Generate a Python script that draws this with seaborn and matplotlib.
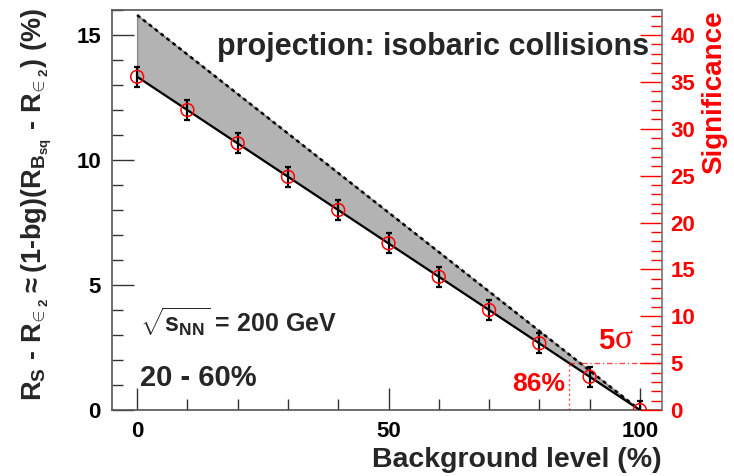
import matplotlib
matplotlib.use("Agg")
import matplotlib.pyplot as plt
import seaborn as sns
import numpy as np
import pandas as pd
from matplotlib.ticker import MultipleLocator

# ---- data ----
bg_level = [0, 10, 20, 30, 40, 50, 60, 70, 80, 90, 100]
diff_vals = [13.33, 12.0, 10.67, 9.33, 8.0, 6.67, 5.33, 4.0, 2.67, 1.33, 0.0]
diff_errs = [0.4, 0.4, 0.4, 0.4, 0.4, 0.4, 0.4, 0.4, 0.4, 0.4, 0.35]
line_x = [0, 100]
lower_line = [13.33, 0.0]
upper_line = [15.8, 0.0]
sig_threshold = 5
bg_at_threshold = 86
left_ylim = [0, 16.0]
right_ylim = [0, 42.67]
xlim = [-5, 104.4]

sns.set_theme(style="ticks")
plt.rcParams['font.family'] = ['Liberation Sans', 'DejaVu Sans']
plt.rcParams['font.weight'] = 'bold'
plt.rcParams['mathtext.fontset'] = 'custom'
plt.rcParams['mathtext.rm'] = 'Liberation Sans:bold'
plt.rcParams['mathtext.it'] = 'Liberation Sans:bold'
plt.rcParams['mathtext.bf'] = 'Liberation Sans:bold'
plt.rcParams['mathtext.default'] = 'bf'

fig = plt.figure(figsize=(7.34, 4.76), dpi=100)
ax = fig.add_axes([112/734, 1-410/476, 550/734, 400/476])

df_pts = pd.DataFrame({"bg": bg_level, "diff": diff_vals, "err": diff_errs})
df_lo = pd.DataFrame({"bg": line_x, "val": lower_line})
df_hi = pd.DataFrame({"bg": line_x, "val": upper_line})

ax.fill_between(line_x, lower_line, upper_line, color="#b3b3b3", lw=1, edgecolor="#888888", zorder=1)
sns.lineplot(data=df_hi, x="bg", y="val", ax=ax, color="black", lw=1.8, linestyle=(0, (1.5, 1.5)), zorder=2)
sns.lineplot(data=df_lo, x="bg", y="val", ax=ax, color="black", lw=1.6, zorder=3)
ax.errorbar(bg_level, diff_vals, yerr=diff_errs, fmt="none", ecolor="black", elinewidth=1.6,
            capsize=2, capthick=1.6, zorder=4)
sns.scatterplot(data=df_pts, x="bg", y="diff", ax=ax, marker="o", s=85, facecolor="none",
                edgecolor="red", linewidth=1.1, zorder=5)

ax.set_xlim(*xlim)
ax.set_ylim(*left_ylim)
ax.xaxis.set_major_locator(MultipleLocator(50))
ax.xaxis.set_minor_locator(MultipleLocator(10))
ax.yaxis.set_major_locator(MultipleLocator(5))
ax.yaxis.set_minor_locator(MultipleLocator(1))
ax.tick_params(which="both", direction="in", top=False, right=False, colors="#333333",
               labelcolor="black", labelsize=16, width=1)
ax.tick_params(which="major", length=16, pad=8)
ax.tick_params(which="minor", length=8)
for s in ax.spines.values():
    s.set_color("#555555")
    s.set_linewidth(1.2)
ax.spines["right"].set_visible(False)

ax.set_xlabel("Background level (%)", fontsize=20.5, fontweight="bold", loc="right")
ax.xaxis.set_label_coords(1.0, -0.092)
ax.set_ylabel(r"$\mathbf{R_S\ \text{-}\ R_{\!\in_2} \approx (1\text{-}bg)(R_{B_{sq}}\ \text{-}\ R_{\!\in_2})\ (\%)}$",
              fontsize=19.5)
ax.yaxis.set_label_coords(-0.105, 0.515)

# right axis
ax2 = ax.twinx()
ax2.set_position(ax.get_position())
ax2.set_ylim(*right_ylim)
ax2.yaxis.set_major_locator(MultipleLocator(5))
ax2.yaxis.set_minor_locator(MultipleLocator(1))
ax2.tick_params(which="both", direction="in", colors="red", labelcolor="red", labelsize=16, width=1)
ax2.tick_params(which="major", length=16, pad=6)
ax2.tick_params(which="minor", length=8)
for k, s in ax2.spines.items():
    s.set_visible(k == "right")
ax2.spines["right"].set_color("#777777")
ax2.spines["right"].set_linewidth(1.2)
ax2.set_ylabel("Significance", color="red", fontsize=20, fontweight="bold", loc="top")
ax2.yaxis.set_label_coords(1.072, 1.0)

# 5 sigma indicator lines
ax2.plot([bg_at_threshold, xlim[1]], [sig_threshold, sig_threshold], color="red", lw=1,
         linestyle=(0, (4, 2, 1, 2)), alpha=0.7)
ax2.plot([bg_at_threshold, bg_at_threshold], [0, sig_threshold], color="red", lw=1,
         linestyle=(0, (1.5, 2)), alpha=0.7)

# annotations
ax.text(101.8, 14.5, "projection: isobaric collisions", fontsize=22, fontweight="bold",
        ha="right", va="center")
ax.text(0.6, 3.5, r"$\sqrt{s_{NN}}$ = 200 GeV", fontsize=18, fontweight="bold", va="center")
ax.text(0.6, 1.28, "20 - 60%", fontsize=21, fontweight="bold", va="center")
ax.text(91.6, 2.76, "5", fontsize=21, color="red", fontweight="bold", va="center")
ax.text(95.0, 2.82, "σ", fontsize=24, color="red", fontweight="normal",
        family=["Liberation Serif", "DejaVu Serif"], va="center")
ax.text(74.5, 1.04, "86%", fontsize=19, fontweight="bold", color="red", va="center")

fig.savefig("out.png", dpi=100)
